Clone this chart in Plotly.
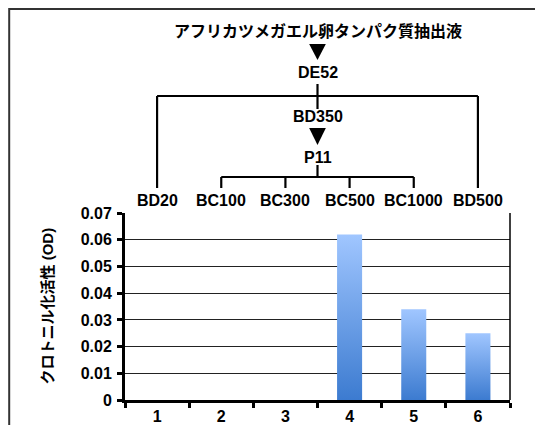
import plotly.graph_objects as go

# ---- data ----
samples = [1, 2, 3, 4, 5, 6]
sample_labels = ["1", "2", "3", "4", "5", "6"]
fractions = ["BD20", "BC100", "BC300", "BC500", "BC1000", "BD500"]
activity = [0.0, 0.0, 0.0, 0.062, 0.034, 0.025]
y_ticks = [0, 0.01, 0.02, 0.03, 0.04, 0.05, 0.06, 0.07]
y_ticktext = ["0", "0.01", "0.02", "0.03", "0.04", "0.05", "0.06", "0.07"]
source_label = "アフリカツメガエル卵タンパク質抽出液"
step_labels = ["DE52", "BD350", "P11"]
y_title = "クロトニル化活性 (OD)"

FONT = "Liberation Sans, Arial, Noto Sans CJK JP"
BAR_W = 0.39

fig = go.Figure()

for xc, v in zip(samples, activity):
    if v <= 0:
        continue
    fig.add_trace(go.Scatter(
        x=[xc - BAR_W / 2, xc + BAR_W / 2, xc + BAR_W / 2, xc - BAR_W / 2, xc - BAR_W / 2],
        y=[0, 0, v, v, 0],
        mode="lines", fill="toself",
        line=dict(width=0),
        fillgradient=dict(type="vertical",
                          colorscale=[[0, "#3c7bd0"], [1, "#a0c6ff"]]),
        hoverinfo="skip", showlegend=False,
    ))

# plot area in page pixels: x 125..510, y 213..400
def py(p):
    return (400 - p) / 187.0

mid = (samples[2] + samples[3]) / 2.0
shapes = []
LW = 2.2
def vline(x, p0, p1):
    shapes.append(dict(type="line", xref="x", yref="paper", x0=x, x1=x,
                       y0=py(p0), y1=py(p1), line=dict(color="black", width=LW)))
def hline(x0, x1, p):
    shapes.append(dict(type="line", xref="x", yref="paper", x0=x0, x1=x1,
                       y0=py(p), y1=py(p), line=dict(color="black", width=LW)))
def tri(xc, ptop, ptip, hw=0.13):
    shapes.append(dict(type="path", xref="x", yref="paper",
                       path=f"M {xc-hw},{py(ptop)} L {xc+hw},{py(ptop)} L {xc},{py(ptip)} Z",
                       fillcolor="black", line=dict(color="black", width=0)))

tri(mid, 44, 60)
vline(mid, 84, 109)
hline(samples[0], samples[5], 96)
vline(samples[0], 96, 188)
vline(samples[5], 96, 188)
tri(mid, 128, 145)
vline(mid, 165, 177)
hline(samples[1], samples[4], 177)
for s in samples[1:5]:
    vline(s, 177, 188)

# right frame line of plot
shapes.append(dict(type="line", xref="paper", yref="paper", x0=1, x1=1, y0=0, y1=1,
                   line=dict(color="black", width=1.5)))
# outer figure border (left & top visible)
shapes.append(dict(type="rect", xref="paper", yref="paper",
                   x0=(9.2 - 125) / 385.0, x1=1.3, y0=-0.5, y1=py(9),
                   line=dict(color="#333", width=2), fillcolor="rgba(0,0,0,0)"))

annotations = []
def txt(x, p, s, size=16, xref="x"):
    annotations.append(dict(x=x, y=py(p), xref=xref, yref="paper", text=s, showarrow=False,
                            xanchor="center", yanchor="middle",
                            font=dict(family=FONT, size=size, color="black", weight="bold")))

txt(mid, 31, source_label)
txt(mid, 73, step_labels[0])
txt(mid, 117, step_labels[1])
txt(mid, 157, step_labels[2])
for s, f in zip(samples, fractions):
    txt(s, 200, f)

annotations.append(dict(x=(47 - 125) / 385.0, y=0.5, xref="paper", yref="paper",
                        text=y_title, showarrow=False, textangle=-90,
                        xanchor="center", yanchor="middle",
                        font=dict(family=FONT, size=15, color="black", weight="bold")))

fig.update_layout(
    width=535, height=417,
    margin=dict(l=117, r=33, t=205, b=25),
    paper_bgcolor="white", plot_bgcolor="white",
    font=dict(family=FONT, size=16, color="black", weight="bold"),
    shapes=shapes, annotations=annotations,
    showlegend=False,
)
fig.update_xaxes(
    range=[0.5, 6.5], tickmode="array", tickvals=samples, ticktext=sample_labels,
    ticks="", showgrid=False, zeroline=False, automargin=False,
    showline=True, linecolor="black", linewidth=3,
    minor=dict(tickmode="array", tickvals=[0.5, 1.5, 2.5, 3.5, 4.5, 5.5, 6.5],
               ticks="outside", ticklen=5, tickwidth=3, tickcolor="black", showgrid=False),
    tickfont=dict(family=FONT, size=16, color="black", weight="bold"),
    fixedrange=True,
)
fig.update_yaxes(
    range=[0, 0.07005], tickmode="array", tickvals=y_ticks, ticktext=y_ticktext,
    ticks="outside", ticklen=5, tickwidth=3, tickcolor="black",
    showgrid=True, gridcolor="#222", gridwidth=1.2, zeroline=False, automargin=False,
    showline=True, linecolor="black", linewidth=3,
    ticklabelstandoff=2,
    tickfont=dict(family=FONT, size=16, color="black", weight="bold"),
    fixedrange=True,
)

fig.write_html("out.html")
